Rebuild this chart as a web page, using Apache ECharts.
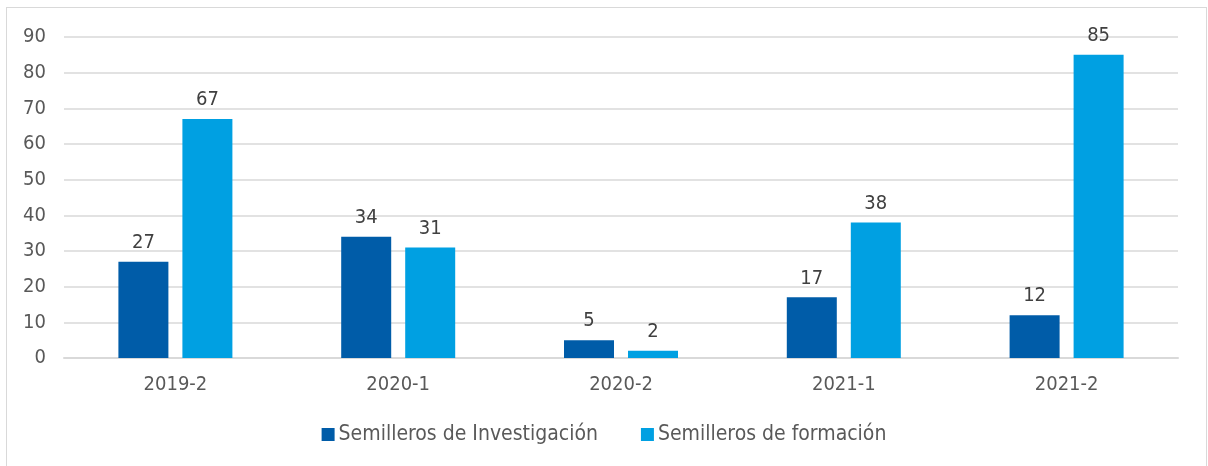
<!DOCTYPE html>
<html>
<head>
<meta charset="utf-8">
<script src="https://cdn.jsdelivr.net/npm/echarts@6/dist/echarts.min.js"></script>
<style>
  html, body { margin: 0; padding: 0; background: #fff; }
  #chart { width: 1208px; height: 466px; }
  #frame {
    position: absolute; left: 6px; top: 7px; width: 1199px; height: 470px;
    border: 1px solid #d9d9d9; pointer-events: none;
  }
</style>
</head>
<body>
<div id="chart"></div>
<div id="frame"></div>
<script>
// periodos
var periodos = ['2019-2', '2020-1', '2020-2', '2021-1', '2021-2'];
var investigacion = [27, 34, 5, 17, 12];
var formacion = [67, 31, 2, 38, 85];
var nombres = ['Semilleros de Investigación', 'Semilleros de formación'];

var fuente = 'DejaVu Sans Condensed';
var chart = echarts.init(document.getElementById('chart'));
var etiqueta = {
  show: true,
  position: 'top',
  distance: 9,
  color: '#404040',
  fontSize: 20,
  fontFamily: fuente
};
var option = {
  animation: false,
  textStyle: { fontFamily: fuente },
  grid: { left: 64, right: 30, top: 37, bottom: 108 },
  legend: {
    bottom: 16,
    left: 'center',
    itemWidth: 13,
    itemHeight: 13,
    itemGap: 43,
    icon: 'rect',
    textStyle: { color: '#595959', fontSize: 21, fontFamily: fuente, padding: [0, 0, 0, -1] },
    data: nombres
  },
  xAxis: {
    type: 'category',
    data: periodos,
    axisLine: { lineStyle: { color: '#d9d9d9', width: 2 } },
    axisTick: { show: false },
    axisLabel: { color: '#595959', fontSize: 20, margin: 17, fontFamily: fuente }
  },
  yAxis: {
    type: 'value',
    min: 0,
    max: 90,
    interval: 10,
    axisLine: { show: false },
    axisTick: { show: false },
    splitLine: { lineStyle: { color: '#d9d9d9', width: 1.5 } },
    axisLabel: { color: '#595959', fontSize: 20, margin: 18, fontFamily: fuente }
  },
  series: [
    {
      name: nombres[0],
      type: 'bar',
      data: investigacion,
      barWidth: 50,
      barGap: '28%',
      itemStyle: { color: '#005ca8' },
      label: etiqueta
    },
    {
      name: nombres[1],
      type: 'bar',
      data: formacion,
      barWidth: 50,
      itemStyle: { color: '#00a0e2' },
      label: etiqueta
    }
  ]
};
chart.setOption(option);
</script>
</body>
</html>
